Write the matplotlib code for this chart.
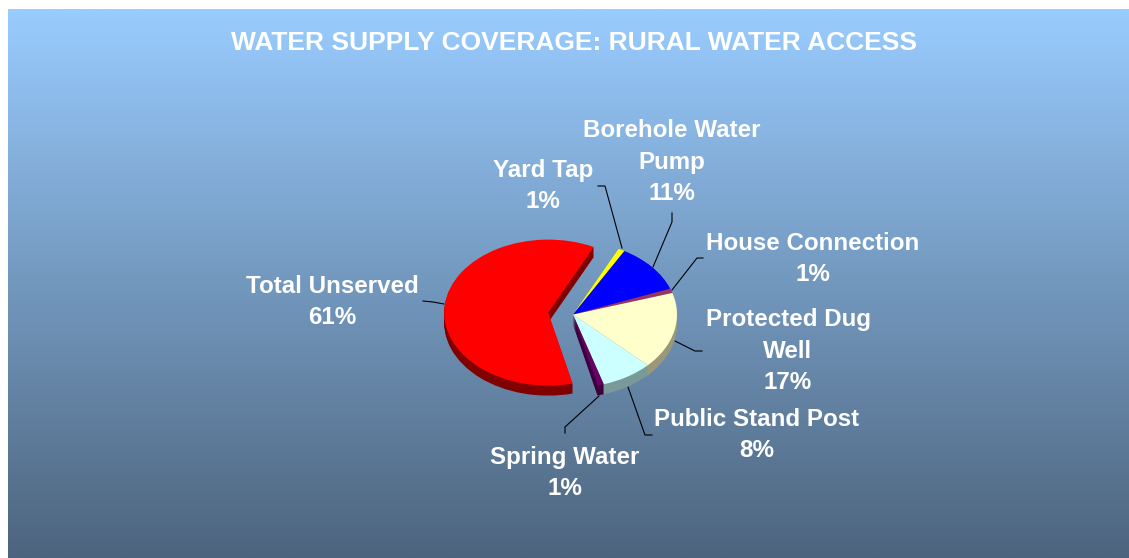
import numpy as np
import matplotlib
matplotlib.use("Agg")
import matplotlib.pyplot as plt
from matplotlib.colors import LinearSegmentedColormap

W, H = 1129, 558

title = "WATER SUPPLY COVERAGE: RURAL WATER ACCESS"
categories = ["Yard Tap", "Borehole Water\nPump", "House Connection", "Protected Dug\nWell",
              "Public Stand Post", "Spring Water", "Total Unserved"]
shares = [1, 11, 1, 17, 8, 1, 61]
top_colors = ["#FFFF00", "#0000FF", "#993366", "#FFFFCC", "#CCFFFF", "#660066", "#FF0000"]
side_colors = ["#999900", "#000099", "#5C1F3D", "#99997A", "#7A9999", "#3D003D", "#800000"]
explode = [0, 0, 0, 0, 0, 0, 0.24]

# label centre and leader polyline, in figure pixels
label_xy = [(543, 186), (672, 162), (813, 259), (788, 351), (757, 435), (565, 473), (332, 302)]
leaders = [
    [(622, 248), (605, 186), (598, 186)],
    [(653, 267), (672, 222), (672, 213)],
    [(672, 290), (697, 258), (703, 258)],
    [(675, 341), (695, 351), (702, 351)],
    [(628, 387), (645, 435), (652, 435)],
    [(599, 396), (565, 427), (565, 433)],
    [(444, 304), (433, 302), (423, 301)],
]

fig = plt.figure(figsize=(W / 100, H / 100), dpi=100, facecolor="white")

# page-sized layer holding the backdrop, leaders and text
page = fig.add_axes([0, 0, 1, 1])
cmap = LinearSegmentedColormap.from_list("backdrop", ["#99CCFF", "#4D647D"])
page.imshow(np.linspace(0, 1, 256).reshape(-1, 1), cmap=cmap, aspect="auto",
            extent=(8, W, H, 9), zorder=0)
page.set_xlim(0, W)
page.set_ylim(H, 0)
page.axis("off")

# tilted pie: unit radius maps to a flattened ellipse, extruded downward
cx, cy, rx, ry = 573, 314.5, 104, 73
depth = 10
pie_ax = fig.add_axes([(cx - rx * 1.4) / W, 1 - (cy + ry * 1.4) / H,
                       rx * 2.8 / W, ry * 2.8 / H])
pie_ax.patch.set_visible(False)

for d in range(depth, 0, -1):
    pie_ax.pie(shares, colors=side_colors, explode=explode, startangle=64,
               counterclock=False, center=(0, -d / ry), frame=False,
               wedgeprops={"linewidth": 0})
wedges, _ = pie_ax.pie(shares, colors=top_colors, explode=explode, startangle=64,
                       counterclock=False, center=(0, 0), frame=False,
                       wedgeprops={"linewidth": 0})
pie_ax.set_aspect("auto")
pie_ax.set_xlim(-1.4, 1.4)
pie_ax.set_ylim(-1.4, 1.4)
pie_ax.axis("off")

text_font = "Liberation Sans"
page.text(574, 43, title, color="white", fontsize=19, fontweight="bold",
          family=text_font, ha="center", va="center")

for name, value, (x, y), path in zip(categories, shares, label_xy, leaders):
    page.text(x, y, f"{name}\n{value}%", color="white", fontsize=17.4, fontweight="bold",
              family=text_font, ha="center", va="center", linespacing=1.45, zorder=5)
    xs, ys = zip(*path)
    page.plot(xs, ys, color="black", lw=0.8, zorder=1, solid_joinstyle="miter")

# the leaders sit above the backdrop and below the pie
page.set_zorder(0)
pie_ax.set_zorder(1)

fig.savefig("out.png", dpi=100)
